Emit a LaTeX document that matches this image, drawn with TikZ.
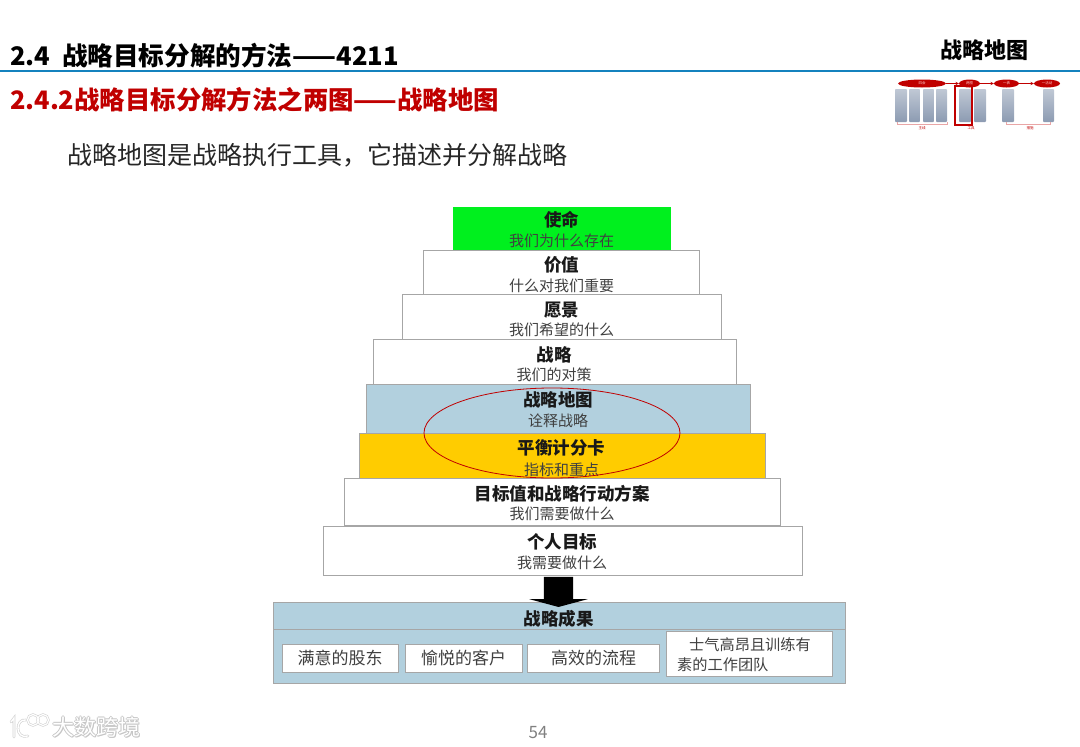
\documentclass[tikz,border=0pt]{standalone}
\usepackage{fontspec}
\setmainfont{Noto Sans CJK SC}
\usetikzlibrary{shapes.geometric,shapes.arrows}

\definecolor{tierblue}{RGB}{178,208,222}
\definecolor{tiergold}{RGB}{255,204,0}
\definecolor{tiergreen}{RGB}{0,240,30}
\definecolor{headred}{RGB}{192,0,0}
\definecolor{ruleblue}{RGB}{20,130,190}
\definecolor{thumbgray}{RGB}{140,155,178}

\tikzset{
    tier/.style={draw=gray!70, line width=1pt, fill=white, inner sep=0pt, align=center, text=black},
    outcome/.style={draw=gray!70, line width=1pt, fill=white, inner sep=0pt, font=\fontsize{17}{17}\selectfont, text=black!75},
    tiername/.style={font=\fontsize{17.5}{17.5}\selectfont\bfseries, text=black!90},
    tiernote/.style={font=\fontsize{15}{15}\selectfont, text=black!75},
    heading/.style={anchor=west, inner sep=0pt, font=\fontsize{25.6}{25.6}\selectfont\bfseries},
    thumbcol/.style={top color=thumbgray!55, bottom color=thumbgray, rounded corners=0.8pt},
    thumbpill/.style={ellipse, fill=headred, inner sep=0pt, text=white!80!red, font=\fontsize{3.5}{3.5}\selectfont},
    thumbnote/.style={inner sep=0pt, text=headred, font=\fontsize{3.5}{3.5}\selectfont},
    watermark/.style={inner sep=0pt, anchor=west, font=\fontsize{22}{22}\selectfont}
}

\begin{document}
\begin{tikzpicture}[x=1pt, y=-1pt]
\useasboundingbox (0,0) rectangle (1080,747);

% Titel
\node[heading] (title) at (10,56) {2.4\ \ 战略目标分解的方法——4211};
\node[heading, text=headred, font=\fontsize{25.4}{25.4}\selectfont\bfseries] (subtitle) at (10,100) {2.4.2战略目标分解方法之两图——战略地图};
\node[anchor=west, inner sep=0pt, text=black!85, font=\fontsize{25}{25}\selectfont] (claim) at (67,155) {战略地图是战略执行工具，它描述并分解战略};
\node[inner sep=0pt, font=\fontsize{22}{22}\selectfont\bfseries] (corner) at (984,50) {战略地图};
\coordinate (ruleL) at (0,71);
\coordinate (ruleR) at (1080,71);
\draw[ruleblue, line width=1.2pt] (ruleL) -- (ruleR);

% Kleine Vorschau oben rechts
\foreach \xa/\xb in {895/907, 909/920, 923/934, 936/947, 959/971, 974/986, 1002/1014, 1043/1054} {
    \shade[thumbcol] (\xa,89) rectangle (\xb,122);
}
\node[thumbpill, minimum width=48pt, minimum height=8pt] (pillA) at (922,83.5) {四会};
\node[thumbpill, minimum width=21pt, minimum height=8pt] (pillB) at (969.5,83.5) {两图};
\node[thumbpill, minimum width=25pt, minimum height=8pt] (pillC) at (1006.5,83.5) {一表};
\node[thumbpill, minimum width=26pt, minimum height=8pt] (pillD) at (1047,83.5) {一活动};
\draw[headred, line width=0.5pt, ->, >=stealth] (pillA) -- (pillB);
\draw[headred, line width=0.5pt, ->, >=stealth] (pillB) -- (pillC);
\draw[headred, line width=0.5pt, ->, >=stealth] (pillC) -- (pillD);
\draw[headred, line width=1.2pt] (955,86) rectangle (972,125);
\draw[headred!35, line width=0.4pt] (897,122) -- (897,124) -- (947,124) -- (947,122);
\draw[headred!35, line width=0.4pt] (1006,122) -- (1006,124.5) -- (1050,124.5) -- (1050,122);
\node[thumbnote] (noteA) at (922,128) {主线};
\node[thumbnote] (noteB) at (971,128) {工具};
\node[thumbnote] (noteC) at (1030,128) {措施};

% Treppe
\node[tier, fill=tiergreen, draw=none, minimum width=218pt, minimum height=43pt] (mission) at (562,228.5) {};
\node[tier, minimum width=276pt, minimum height=44pt] (values) at (561,272) {};
\node[tier, minimum width=319pt, minimum height=45pt] (vision) at (561.5,316.5) {};
\node[tier, minimum width=363pt, minimum height=45pt] (strategy) at (554.5,361.5) {};
\node[tier, fill=tierblue, minimum width=384pt, minimum height=49pt] (stratmap) at (558,408.5) {};
\node[tier, fill=tiergold, minimum width=406pt, minimum height=45pt] (scorecard) at (562,455.5) {};
\node[tier, minimum width=436pt, minimum height=47pt] (targets) at (562,501.5) {};
\node[tier, minimum width=479pt, minimum height=49pt] (personal) at (562.5,550.5) {};

% Beschriftung der Stufen
\foreach \name/\note/\xpos/\ya/\yb in {使命/我们为什么存在/561.5/220/241, 价值/什么对我们重要/561.5/265/286, 愿景/我们希望的什么/561.5/310/330, 战略/我们的对策/554/355/375, 战略地图/诠释战略/558/400/421, 平衡计分卡/指标和重点/561.5/448/470, 目标值和战略行动方案/我们需要做什么/562/494/514, 个人目标/我需要做什么/562/542/563} {
    \node[tiername] at (\xpos,\ya) {\name};
    \node[tiernote] at (\xpos,\yb) {\note};
}

% Ellipse
\node[ellipse, draw=headred, line width=0.8pt, minimum width=256pt, minimum height=90pt, inner sep=0pt] (focus) at (552,433) {};

% Ergebnisblock
\node[tier, fill=tierblue, minimum width=572pt, minimum height=81pt] (outer) at (559,642.5) {};
\coordinate (splitL) at (273,629);
\coordinate (splitR) at (845,629);
\draw[gray!70, line width=1pt] (splitL) -- (splitR);
\node[single arrow, fill=black, inner xsep=0pt, inner ysep=14.5pt, single arrow head extend=14.5pt, single arrow tip angle=150,
    minimum height=30pt, rotate=-90] (flow) at (558.5,590) {};
\node[tiername] (result) at (558.5,619) {战略成果};
\node[outcome, minimum width=116pt, minimum height=28pt] (holders) at (340,658) {满意的股东};
\node[outcome, minimum width=117pt, minimum height=28pt] (clients) at (463.5,658) {愉悦的客户};
\node[outcome, minimum width=132pt, minimum height=28pt] (process) at (593.5,658) {高效的流程};
\node[outcome, minimum width=166pt, minimum height=45pt] (team) at (749,653.5) {};
\node[anchor=west, inner sep=0pt, text=black!75, font=\fontsize{15.2}{15.2}\selectfont] (teamA) at (689,645) {士气高昂且训练有};
\node[anchor=west, inner sep=0pt, text=black!75, font=\fontsize{15.2}{15.2}\selectfont] (teamB) at (677,665) {素的工作团队};

% Fusszeile
\node[inner sep=0pt, text=gray, font=\fontsize{17}{17}\selectfont] (page) at (538,733) {54};
\foreach \dx/\dy in {-0.8/0, 0.8/0, 0/-0.8, 0/0.8, 0.8/0.8} {
    \node[watermark, text=gray!45] at (52+\dx,727+\dy) {大数跨境};
}
\node[watermark, text=white] (mark) at (52,727) {大数跨境};
\draw[gray!35, line width=2.6pt, line cap=round] (11,722) -- (14,718) -- (14,737) (26,720) .. controls (15,718) and (15,740) .. (28,736);
\draw[gray!35, line width=2.4pt] (33,720) circle (5.5) (43,720) circle (5.5);
\draw[white, line width=1.3pt, line cap=round] (11,722) -- (14,718) -- (14,737) (26,720) .. controls (15,718) and (15,740) .. (28,736);
\draw[white, line width=1.2pt] (33,720) circle (5.5) (43,720) circle (5.5);
\end{tikzpicture}
\end{document}
